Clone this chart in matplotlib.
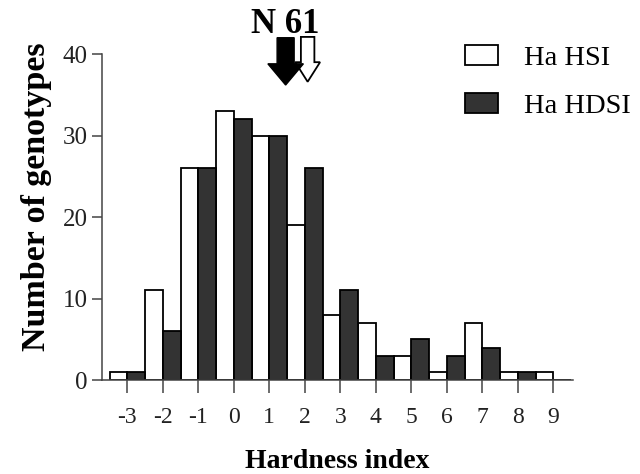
import matplotlib
matplotlib.use("Agg")
import matplotlib.pyplot as plt
from matplotlib.patches import FancyArrow

plt.rcParams['font.family'] = ['Liberation Serif', 'DejaVu Serif']

# hardness index classes and genotype counts
classes = [-3, -2, -1, 0, 1, 2, 3, 4, 5, 6, 7, 8, 9]
tick_labels = ["-3", "-2", "-1", "0", "1", "2", "3", "4", "5", "6", "7", "8", "9"]
ha_hsi = [1, 11, 26, 33, 30, 19, 8, 7, 3, 1, 7, 1, 1]
ha_hdsi = [1, 6, 26, 32, 30, 26, 11, 3, 5, 3, 4, 1, 0]

# position of the N 61 arrows (hardness index)
n61_hdsi = 1.46
n61_hsi = 2.08

fig = plt.figure(figsize=(6.4, 4.74), dpi=100)
ax = fig.add_axes([0.159, 0.198, 0.736, 0.688])

w = 0.5
ax.bar([c - w / 2 for c in classes], ha_hsi, width=w, color="white",
       edgecolor="black", linewidth=1.3, label="Ha HSI")
ax.bar([c + w / 2 for c in classes], ha_hdsi, width=w, color="#333333",
       edgecolor="black", linewidth=1.3, label="Ha HDSI")

ax.set_xlim(-3.72, 9.55)
ax.set_ylim(0, 40)
ax.set_yticks([0, 10, 20, 30, 40])
ax.set_xticks(classes)
ax.set_xticklabels(tick_labels)
for s in ["top", "right"]:
    ax.spines[s].set_visible(False)
for s in ["left", "bottom"]:
    ax.spines[s].set_color("#444444")
    ax.spines[s].set_linewidth(1.1)
ax.tick_params(axis="y", length=7, width=1.1, color="#444444", labelsize=18, pad=3,
               labelcolor="#222222")
ax.tick_params(axis="x", length=9.5, width=1.1, color="#444444", labelsize=17, pad=10,
               labelcolor="#222222")

ax.set_ylabel("Number of genotypes", fontsize=24.5, fontweight="bold")
ax.yaxis.set_label_coords(-0.106, 0.564)
ax.set_xlabel("Hardness index", fontsize=20, fontweight="bold", labelpad=15)

# arrows (white one behind the black one)
a1 = FancyArrow(n61_hsi, 42.1, 0, -5.5, width=0.38, head_width=0.7, head_length=2.4,
                length_includes_head=True, facecolor="white", edgecolor="black",
                linewidth=1.3, clip_on=False)
a2 = FancyArrow(n61_hdsi, 42.0, 0, -5.8, width=0.48, head_width=1.0, head_length=2.6,
                length_includes_head=True, facecolor="black", edgecolor="black",
                linewidth=1.0, clip_on=False)
ax.add_patch(a1)
ax.add_patch(a2)
ax.text(1.45, 42.6, "N 61", fontsize=25, fontweight="bold", ha="center", va="baseline")

ax.legend(loc="upper left", bbox_to_anchor=(0.709, 0.93), bbox_transform=fig.transFigure,
          frameon=False, fontsize=20.5, handlelength=1.15, handleheight=0.72,
          handletextpad=0.9, labelspacing=0.78, borderaxespad=0)

fig.savefig("out.png", dpi=100)
